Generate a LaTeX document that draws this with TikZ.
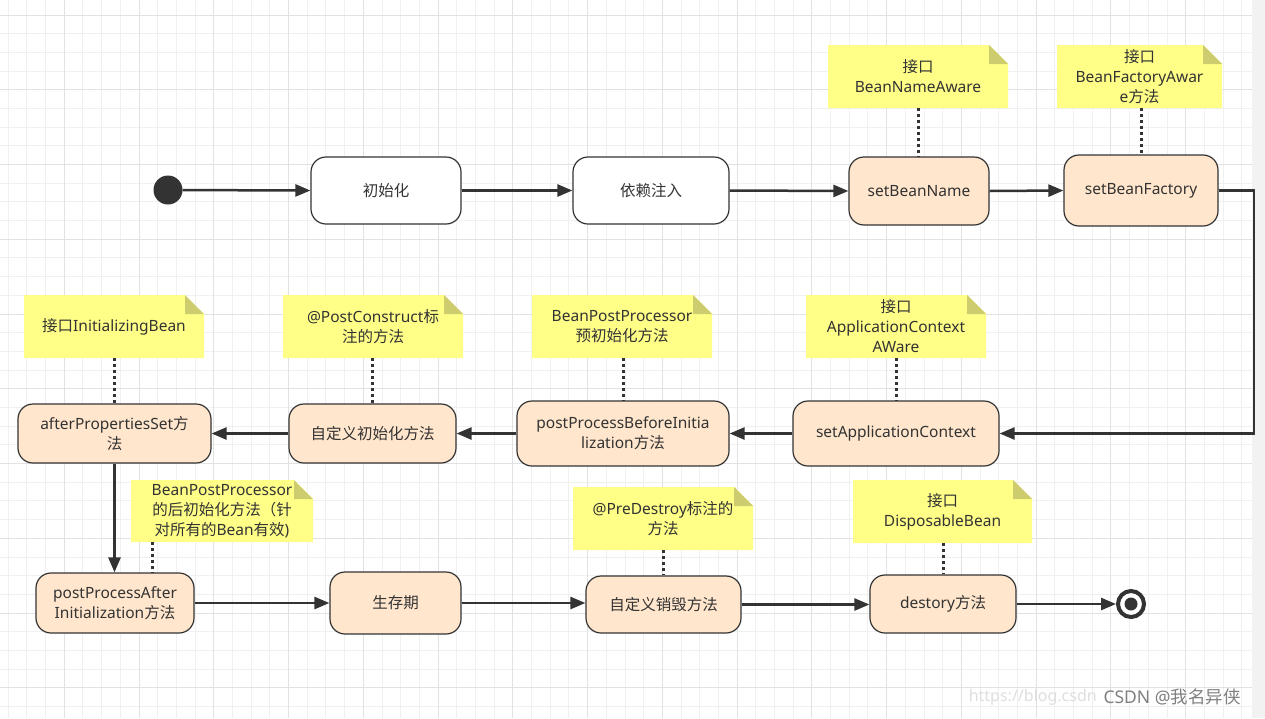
\documentclass[tikz,border=0pt]{standalone}
\usepackage{fontspec}
\setmainfont{Noto Sans}
\newfontfamily\cjkf{Noto Sans CJK SC}
\newcommand\zhs[1]{{\cjkf #1}}
\usetikzlibrary{arrows.meta}
\definecolor{ink}{HTML}{333333}
\definecolor{peach}{HTML}{FFE6CC}
\definecolor{notec}{HTML}{FFFF88}
\definecolor{foldc}{HTML}{CDCD70}
\definecolor{gridminor}{HTML}{F0F0F0}
\definecolor{gridmajor}{HTML}{E2E2E2}
\definecolor{stripc}{HTML}{F2F2F2}
\tikzset{
  txt/.style={text=ink, align=center, font=\fontsize{15.5}{20}\selectfont},
  box/.style={txt, draw=ink, line width=1.2pt, rounded corners=15pt, fill=peach, inner sep=0pt},
  whitebox/.style={box, fill=white},
  notebox/.style={txt, inner sep=0pt, path picture={
      \fill[notec] (path picture bounding box.south west) -- (path picture bounding box.north west)
        -- ([xshift=-19pt]path picture bounding box.north east)
        -- ([yshift=-19pt]path picture bounding box.north east)
        -- (path picture bounding box.south east) -- cycle;
      \fill[foldc] ([xshift=-19pt]path picture bounding box.north east)
        -- ([xshift=-19pt,yshift=-19pt]path picture bounding box.north east)
        -- ([yshift=-19pt]path picture bounding box.north east) -- cycle;
    }},
  conn/.style={draw=ink, line width=2.5pt, -{Triangle[length=15pt,width=12pt]}},
  link/.style={draw=ink, line width=3pt, dash pattern=on 3pt off 3pt},
}
\begin{document}
\begin{tikzpicture}[x=1pt,y=-1pt]
\useasboundingbox (0,0) rectangle (1265,718);
% background grid
\fill[white] (0,0) rectangle (1265,718);
\foreach \i in {0,...,66} {
  \pgfmathsetmacro\xx{8.23+18.69*\i}
  \draw[gridminor, line width=1pt] (\xx,0) -- (\xx,718);
}
\foreach \i in {0,...,39} {
  \pgfmathsetmacro\yy{-3.69+18.69*\i}
  \draw[gridminor, line width=1pt] (0,\yy) -- (1252,\yy);
}
\foreach \i in {0,...,16} {
  \pgfmathsetmacro\xx{64.3+74.76*\i}
  \draw[gridmajor, line width=1pt] (\xx,0) -- (\xx,718);
}
\foreach \i in {0,...,9} {
  \pgfmathsetmacro\yy{15+74.76*\i}
  \draw[gridmajor, line width=1pt] (0,\yy) -- (1252,\yy);
}
\fill[stripc] (1252,0) rectangle (1265,718);

% watermark
\node[text=black!50, font=\fontsize{17.5}{20}\selectfont] (wm) at (1172,697) {CSDN @\zhs{我名异侠}};
\node[anchor=east, text=black!13, font=\fontsize{16}{20}\selectfont, inner sep=1pt] (url) at ([xshift=-2pt]wm.west) {https://blog.csdn};

% row 1
\node[circle, fill=ink, minimum size=29pt, inner sep=0pt] (start) at (168,190) {};
\node[whitebox, minimum width=150pt, minimum height=67pt] (b1) at (386,190.5) {\zhs{初始化}};
\node[whitebox, minimum width=156pt, minimum height=67pt] (b2) at (651,190.5) {\zhs{依赖注入}};
\node[box, minimum width=140pt, minimum height=68pt] (b3) at (919,191) {setBeanName};
\node[box, minimum width=154pt, minimum height=71pt] (b4) at (1141,190.5) {setBeanFactory};

\node[notebox, minimum width=180pt, minimum height=63pt] (n1) at (918,76.5) {\zhs{接口}\\BeanNameAware};
\node[notebox, minimum width=165pt, minimum height=63pt] (n2) at (1139.5,76.5) {\zhs{接口}\\BeanFactoryAwar\\e\zhs{方法}};

% row 2
\node[box, minimum width=206pt, minimum height=65pt] (b5) at (896,433.5) {setApplicationContext};
\node[box, minimum width=212pt, minimum height=65pt] (b6) at (623,433.5) {postProcessBeforeInitia\\lization\zhs{方法}};
\node[box, minimum width=167pt, minimum height=59pt] (b7) at (372.5,433.5) {\zhs{自定义初始化方法}};
\node[box, minimum width=193pt, minimum height=59pt] (b8) at (114.5,433.5) {afterPropertiesSet\zhs{方}\\\zhs{法}};

\node[notebox, minimum width=180pt, minimum height=63pt] (n3) at (114,326.5) {\zhs{接口}InitializingBean};
\node[notebox, minimum width=180pt, minimum height=63pt] (n4) at (373,326.5) {@PostConstruct\zhs{标}\\\zhs{注的方法}};
\node[notebox, minimum width=180pt, minimum height=63pt] (n5) at (622,326.5) {BeanPostProcessor\\\zhs{预初始化方法}};
\node[notebox, minimum width=180pt, minimum height=63pt] (n6) at (896,326.5) {\zhs{接口}\\ApplicationContext\\AWare};

% row 3
\node[box, minimum width=158pt, minimum height=60pt] (b9) at (115,603) {postProcessAfter\\Initialization\zhs{方法}};
\node[box, minimum width=131pt, minimum height=62pt] (b10) at (395.5,603) {\zhs{生存期}};
\node[box, minimum width=155pt, minimum height=57pt] (b11) at (663.5,604.5) {\zhs{自定义销毁方法}};
\node[box, minimum width=146pt, minimum height=58pt] (b12) at (943,604) {destory\zhs{方法}};
\node[circle, draw=ink, line width=4pt, fill=white, minimum size=26pt, inner sep=0pt] (end) at (1131,604) {};
\fill[ink] (end.center) circle (6.5);

\node[notebox, minimum width=182pt, minimum height=62pt] (n7) at (222,511) {BeanPostProcessor\\\zhs{的后初始化方法（针}\\\zhs{对所有的}Bean\zhs{有效})};
\node[notebox, minimum width=180pt, minimum height=63pt] (n8) at (663,518.5) {@PreDestroy\zhs{标注的}\\\zhs{方法}};
\node[notebox, minimum width=179pt, minimum height=63pt] (n9) at (942.5,511.5) {\zhs{接口}\\DisposableBean};

% dotted links
\draw[link] (n1.south) -- (b3.north -| n1.south);
\draw[link] (n2.south -| b4.north) -- (b4.north);
\draw[link] (n3.south -| b8.north) -- (b8.north);
\draw[link] (n4.south -| b7.north) -- (b7.north);
\draw[link] (n5.south -| b6.north) -- (b6.north);
\draw[link] (n6.south -| b5.north) -- (b5.north);
\coordinate (n7foot) at (152,542);
\draw[link] (n7foot) -- (n7foot |- b9.north);
\draw[link] (n8.south -| b11.north) -- (b11.north);
\draw[link] (n9.south -| b12.north) -- (b12.north);

% connectors
\coordinate (elbow) at (1254,190);
\draw[conn] (start) -- (b1.west);
\draw[conn] (b1.east) -- (b2.west);
\draw[conn] (b2.east) -- (b3.west);
\draw[conn] (b3.east) -- (b4.west);
\draw[conn] (b4.east) -- (b4.east -| elbow) -- (elbow |- b5.east) -- (b5.east);
\draw[conn] (b5.west) -- (b6.east);
\draw[conn] (b6.west) -- (b7.east);
\draw[conn] (b7.west) -- (b8.east);
\draw[conn] (b8.south) -- (b8.south |- b9.north);
\draw[conn] (b9.east) -- (b9.east -| b10.west);
\draw[conn] (b10.east) -- (b10.east -| b11.west);
\draw[conn] (b11.east) -- (b11.east -| b12.west);
\draw[conn] (b12.east) -- (end);
\end{tikzpicture}
\end{document}
